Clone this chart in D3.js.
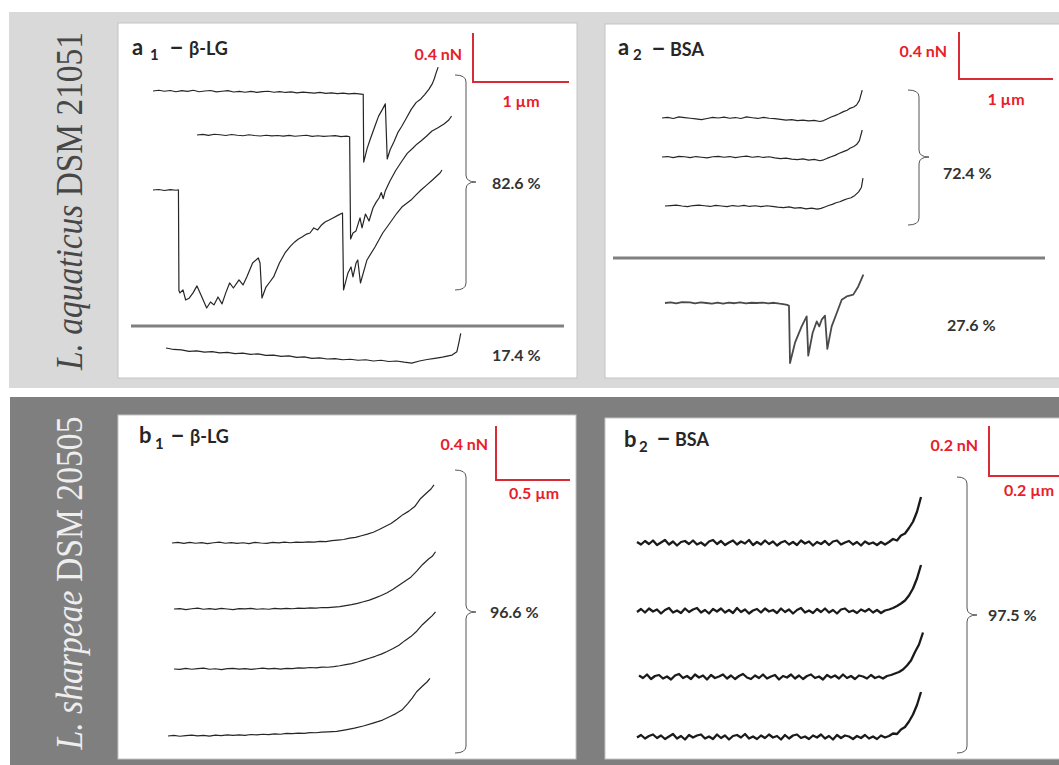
<!DOCTYPE html>
<html><head><meta charset="utf-8">
<script src="https://cdn.jsdelivr.net/npm/d3@7"></script>
<style>body{margin:0;background:#fff}svg{display:block}</style>
</head><body>
<svg id="c" width="1059" height="765"></svg>
<script>
// ---------- DATA: retraction force curves, [distance (µm), force (nN)] ----------
const a1_curve1 = [[0,0],[0.06,0.006],[0.12,-0.002],[0.18,0.004],[0.24,-0.006],[0.30,0.003],[0.36,-0.003],[0.42,0.006],[0.48,-0.006],[0.54,0],[0.60,0.004],[0.66,-0.007],[0.72,-0.002],[0.78,0.003],[0.84,-0.008],[0.90,-0.003],[0.96,-0.01],[1.02,-0.003],[1.08,-0.011],[1.14,-0.005],[1.20,-0.002],[1.26,-0.01],[1.32,-0.005],[1.38,-0.012],[1.44,-0.007],[1.50,-0.015],[1.56,-0.009],[1.62,-0.014],[1.68,-0.018],[1.74,-0.011],[1.80,-0.02],[1.86,-0.015],[1.92,-0.022],[1.98,-0.017],[2.04,-0.024],[2.10,-0.019],[2.19,-0.028],[2.195,-0.58],[2.23,-0.47],[2.26,-0.40],[2.29,-0.335],[2.32,-0.27],[2.35,-0.205],[2.39,-0.15],[2.42,-0.105],[2.44,-0.555],[2.47,-0.48],[2.51,-0.415],[2.55,-0.34],[2.59,-0.29],[2.64,-0.22],[2.69,-0.15],[2.74,-0.095],[2.79,-0.065],[2.83,-0.03],[2.875,0.015],[2.91,0.06],[2.93,0.10],[2.95,0.15],[2.97,0.195]];
const a1_curve2 = [[0,0],[0.06,0.005],[0.12,-0.003],[0.18,0.006],[0.24,0.002],[0.30,-0.004],[0.36,0.004],[0.42,-0.002],[0.48,-0.006],[0.54,0.002],[0.60,-0.004],[0.66,-0.008],[0.72,-0.002],[0.78,-0.007],[0.84,-0.004],[0.90,-0.009],[0.96,-0.003],[1.02,-0.01],[1.08,-0.006],[1.14,-0.002],[1.20,-0.011],[1.26,-0.006],[1.32,-0.012],[1.38,-0.008],[1.44,-0.005],[1.50,-0.013],[1.56,-0.009],[1.59,-0.014],[1.60,-0.849],[1.625,-0.80],[1.656,-0.783],[1.698,-0.677],[1.719,-0.759],[1.755,-0.645],[1.792,-0.702],[1.833,-0.596],[1.865,-0.55],[1.896,-0.514],[1.92,-0.47],[1.94,-0.52],[1.96,-0.46],[2.01,-0.375],[2.07,-0.29],[2.135,-0.212],[2.19,-0.15],[2.25,-0.106],[2.29,-0.075],[2.333,-0.049],[2.39,-0.01],[2.448,0.033],[2.51,0.06],[2.573,0.09],[2.62,0.12],[2.652,0.155]];
const a1_curve3 = [[0,0],[0.06,0.004],[0.12,-0.004],[0.18,0.003],[0.24,-0.002],[0.265,0.002],[0.27,-0.82],[0.281,-0.84],[0.3125,-0.816],[0.34,-0.898],[0.379,-0.881],[0.417,-0.84],[0.458,-0.783],[0.5,-0.857],[0.559,-0.963],[0.599,-0.914],[0.635,-0.938],[0.677,-0.873],[0.719,-0.93],[0.758,-0.84],[0.798,-0.759],[0.8375,-0.8],[0.896,-0.734],[0.9375,-0.775],[0.977,-0.71],[1.0375,-0.596],[1.097,-0.555],[1.115,-0.596],[1.135,-0.881],[1.177,-0.792],[1.217,-0.751],[1.256,-0.71],[1.317,-0.596],[1.375,-0.514],[1.43,-0.46],[1.476,-0.424],[1.515,-0.4],[1.552,-0.384],[1.6,-0.36],[1.635,-0.351],[1.675,-0.31],[1.715,-0.326],[1.75,-0.29],[1.792,-0.261],[1.835,-0.245],[1.875,-0.228],[1.93,-0.205],[1.974,-0.188],[1.985,-0.816],[2.031,-0.677],[2.0625,-0.628],[2.083,-0.71],[2.115,-0.596],[2.133,-0.571],[2.161,-0.759],[2.229,-0.571],[2.3125,-0.465],[2.393,-0.351],[2.44,-0.3],[2.49,-0.245],[2.54,-0.19],[2.592,-0.139],[2.64,-0.11],[2.6875,-0.082],[2.74,-0.04],[2.792,0],[2.85,0.04],[2.911,0.082],[2.95,0.11],[2.99,0.139],[3.01,0.163]];
const a1_curve4 = [[0,0],[0.08,-0.012],[0.16,-0.016],[0.24,-0.028],[0.32,-0.024],[0.40,-0.034],[0.48,-0.03],[0.56,-0.04],[0.64,-0.036],[0.72,-0.046],[0.80,-0.042],[0.88,-0.052],[0.96,-0.048],[1.04,-0.06],[1.12,-0.058],[1.20,-0.068],[1.28,-0.064],[1.36,-0.076],[1.44,-0.072],[1.52,-0.084],[1.60,-0.08],[1.68,-0.09],[1.76,-0.086],[1.84,-0.096],[1.92,-0.092],[2.00,-0.1],[2.08,-0.096],[2.16,-0.106],[2.24,-0.1],[2.32,-0.11],[2.40,-0.106],[2.48,-0.116],[2.56,-0.124],[2.64,-0.106],[2.72,-0.094],[2.80,-0.084],[2.88,-0.074],[2.94,-0.064],[2.98,-0.058],[3.03,-0.03],[3.05,0.04],[3.07,0.12]];

const a2_curve1 = [[0,0],[0.06,0.006],[0.12,-0.004],[0.18,0.01],[0.24,0.004],[0.30,-0.002],[0.36,-0.008],[0.42,-0.014],[0.48,-0.004],[0.54,0.006],[0.60,0],[0.66,0.008],[0.72,-0.002],[0.78,0.004],[0.84,-0.004],[0.90,0.009],[0.96,0.002],[1.02,-0.004],[1.08,0.006],[1.14,-0.002],[1.20,-0.006],[1.26,-0.012],[1.32,-0.018],[1.38,-0.014],[1.44,-0.022],[1.50,-0.018],[1.56,-0.024],[1.62,-0.02],[1.68,-0.03],[1.72,-0.022],[1.76,-0.006],[1.80,0.008],[1.84,0.02],[1.88,0.034],[1.93,0.054],[1.97,0.066],[2.0,0.082],[2.04,0.094],[2.07,0.111],[2.10,0.15],[2.13,0.238]];
const a2_curve2 = [[0,0],[0.06,0.004],[0.12,-0.006],[0.18,0.006],[0.24,0.002],[0.30,-0.006],[0.36,0.004],[0.42,-0.002],[0.48,-0.008],[0.54,0.002],[0.60,0.006],[0.66,-0.002],[0.72,0.004],[0.78,-0.006],[0.84,0.002],[0.90,0.008],[0.96,-0.002],[1.02,0.004],[1.08,-0.004],[1.14,0.002],[1.20,-0.008],[1.26,-0.014],[1.32,-0.01],[1.38,-0.018],[1.44,-0.022],[1.50,-0.016],[1.56,-0.026],[1.62,-0.02],[1.68,-0.032],[1.72,-0.024],[1.76,-0.01],[1.80,0.002],[1.84,0.014],[1.88,0.03],[1.93,0.046],[1.97,0.058],[2.0,0.074],[2.04,0.09],[2.07,0.106],[2.10,0.14],[2.13,0.23]];
const a2_curve3 = [[0,0],[0.06,0.004],[0.12,0.008],[0.18,0],[0.24,-0.006],[0.30,0.004],[0.36,0.008],[0.42,0.002],[0.48,-0.004],[0.54,0.006],[0.60,0],[0.66,-0.006],[0.72,0.004],[0.78,-0.002],[0.84,0.006],[0.90,-0.004],[0.96,0.002],[1.02,-0.006],[1.08,0.002],[1.14,-0.004],[1.20,-0.01],[1.26,-0.014],[1.32,-0.008],[1.38,-0.018],[1.44,-0.014],[1.50,-0.024],[1.56,-0.018],[1.62,-0.026],[1.66,-0.02],[1.70,-0.008],[1.74,0.004],[1.78,0.014],[1.82,0.028],[1.86,0.036],[1.90,0.05],[1.94,0.062],[1.98,0.07],[2.02,0.09],[2.06,0.12],[2.09,0.16],[2.106,0.238]];
const a2_curve4 = [[0,0],[0.06,0.006],[0.12,-0.004],[0.18,0.008],[0.266,0.005],[0.32,-0.004],[0.38,0.006],[0.44,0],[0.50,-0.006],[0.56,0.004],[0.617,-0.006],[0.68,0.004],[0.74,-0.002],[0.80,0.006],[0.86,-0.004],[0.92,0.002],[0.976,0],[1.04,0.004],[1.10,-0.004],[1.16,0.002],[1.22,-0.006],[1.255,-0.009],[1.30,-0.016],[1.319,-0.023],[1.33,-0.511],[1.383,-0.338],[1.454,-0.199],[1.507,-0.114],[1.524,-0.448],[1.571,-0.253],[1.614,-0.157],[1.641,-0.199],[1.667,-0.142],[1.702,-0.108],[1.727,-0.391],[1.773,-0.199],[1.827,-0.085],[1.88,0.028],[1.933,0.056],[2.003,0.071],[2.056,0.141],[2.11,0.241]];

const b1_curve1 = [[0,0],[0.04,0.004],[0.08,-0.003],[0.12,0.005],[0.16,-0.002],[0.20,0.003],[0.24,-0.004],[0.28,0.002],[0.32,0.006],[0.36,-0.002],[0.40,0.003],[0.44,-0.003],[0.48,0.002],[0.52,-0.004],[0.56,0.004],[0.60,0],[0.64,-0.003],[0.68,0.004],[0.72,0.001],[0.76,0.006],[0.80,0.002],[0.84,0.007],[0.88,0.004],[0.92,0.009],[0.96,0.007],[1.00,0.012],[1.04,0.01],[1.08,0.017],[1.12,0.022],[1.16,0.026],[1.20,0.036],[1.24,0.042],[1.28,0.054],[1.32,0.066],[1.36,0.08],[1.40,0.1],[1.44,0.122],[1.48,0.145],[1.52,0.176],[1.56,0.21],[1.60,0.236],[1.64,0.27],[1.68,0.33],[1.72,0.37],[1.75,0.4],[1.77,0.43]];
const b1_curve2 = [[0,0],[0.04,0.003],[0.08,-0.004],[0.12,0.002],[0.16,0.006],[0.20,-0.002],[0.24,0.003],[0.28,-0.003],[0.32,0.004],[0.36,0],[0.40,-0.004],[0.44,0.003],[0.48,0.001],[0.52,0.005],[0.56,-0.002],[0.60,0.002],[0.64,-0.002],[0.68,0.004],[0.72,0.001],[0.76,0.005],[0.80,0.002],[0.84,0.006],[0.88,0.004],[0.92,0.008],[0.96,0.006],[1.00,0.011],[1.04,0.01],[1.08,0.014],[1.12,0.018],[1.16,0.025],[1.20,0.032],[1.24,0.042],[1.28,0.054],[1.32,0.066],[1.36,0.082],[1.40,0.1],[1.44,0.12],[1.48,0.146],[1.52,0.176],[1.56,0.206],[1.60,0.236],[1.64,0.28],[1.68,0.33],[1.72,0.37],[1.745,0.39],[1.767,0.424]];
const b1_curve3 = [[0,0],[0.04,-0.003],[0.08,0.004],[0.12,-0.002],[0.16,0.003],[0.20,0.006],[0.24,-0.002],[0.28,0.002],[0.32,-0.004],[0.36,0.003],[0.40,0.005],[0.44,-0.001],[0.48,0.003],[0.52,-0.003],[0.56,0.002],[0.60,0.006],[0.64,0.001],[0.68,0.004],[0.72,-0.001],[0.76,0.005],[0.80,0.003],[0.84,0.008],[0.88,0.006],[0.92,0.011],[0.96,0.009],[1.00,0.014],[1.04,0.013],[1.08,0.018],[1.12,0.024],[1.16,0.032],[1.20,0.04],[1.24,0.052],[1.28,0.066],[1.32,0.08],[1.36,0.094],[1.40,0.11],[1.44,0.13],[1.48,0.152],[1.52,0.176],[1.56,0.21],[1.60,0.24],[1.64,0.28],[1.68,0.33],[1.72,0.37],[1.745,0.395],[1.767,0.424]];
const b1_curve4 = [[0,0],[0.04,0.004],[0.08,-0.002],[0.12,0.003],[0.16,0.006],[0.20,0.001],[0.24,0.005],[0.28,-0.001],[0.32,0.006],[0.36,0.003],[0.40,0.008],[0.44,0.004],[0.48,0.009],[0.52,0.005],[0.56,0.011],[0.60,0.008],[0.64,0.013],[0.68,0.01],[0.72,0.016],[0.76,0.013],[0.80,0.019],[0.84,0.017],[0.88,0.022],[0.92,0.02],[0.96,0.025],[1.00,0.024],[1.04,0.028],[1.08,0.03],[1.14,0.034],[1.20,0.046],[1.26,0.058],[1.32,0.074],[1.38,0.094],[1.45,0.118],[1.50,0.144],[1.54,0.166],[1.58,0.192],[1.62,0.24],[1.65,0.28],[1.68,0.328],[1.72,0.37],[1.75,0.4],[1.77,0.427]];

// b2: force samples (nN) at equal distance steps over a 0.71 µm span
const b2_span = 0.71;
const b2_curve1 = [0.004,-0.006,0.008,-0.004,0.01,-0.008,0.002,0.012,-0.006,0.006,-0.01,0.004,0.008,-0.004,0.01,-0.006,0.002,-0.01,0.006,0.012,-0.004,0.008,-0.008,0.002,0.01,-0.006,0.006,-0.002,0.012,-0.008,0.004,-0.006,0.01,-0.004,0.006,-0.01,0.002,0.008,-0.006,0.004,-0.008,0.01,-0.002,0.006,-0.01,0.004,-0.004,0.008,-0.008,0.006,0.01,-0.006,0.002,0.008,-0.006,0.004,-0.01,0.006,-0.004,0.002,-0.008,0.004,-0.006,0.004,0.016,0.01,0.03,0.038,0.06,0.085,0.125,0.184];
const b2_curve2 = [-0.004,0.008,-0.006,0.01,-0.002,0.006,-0.01,0.004,0.012,-0.006,0.002,-0.008,0.01,-0.004,0.006,0.012,-0.006,0.004,-0.01,0.008,-0.002,0.01,-0.006,0.004,-0.008,0.012,-0.004,0.006,-0.01,0.002,0.008,-0.006,0.01,-0.002,0.004,-0.008,0.01,-0.004,0.006,-0.01,0.004,0.012,-0.006,0.002,-0.008,0.008,-0.004,0.01,-0.006,0.004,-0.01,0.006,0.01,-0.004,0.002,-0.008,0.006,-0.002,0.008,-0.006,0.004,-0.008,0.002,0.006,0.012,0.02,0.03,0.042,0.062,0.09,0.13,0.184];
const b2_curve3 = [0.006,-0.004,0.01,-0.008,0.004,0.008,-0.006,0.002,-0.01,0.006,0.012,-0.004,0.004,-0.008,0.01,-0.002,0.006,-0.01,0.008,-0.004,0.002,0.01,-0.006,0.006,-0.008,0.004,0.012,-0.002,-0.008,0.006,-0.004,0.01,-0.006,0.002,0.008,-0.01,0.004,-0.002,0.01,-0.006,0.006,-0.008,0.004,0.01,-0.004,0.002,-0.01,0.008,-0.002,0.006,-0.006,0.01,-0.004,0.004,-0.008,0.006,0.002,-0.006,0.008,-0.004,0.002,-0.006,0.004,0.008,0.014,0.02,0.03,0.046,0.066,0.1,0.13,0.178];
const b2_curve4 = [-0.002,0.008,-0.006,0.004,0.01,-0.004,0.006,-0.008,0.002,0.012,-0.006,0.004,-0.01,0.008,-0.002,0.006,0.01,-0.006,0.002,-0.008,0.01,-0.004,0.006,-0.01,0.004,0.008,-0.002,0.012,-0.006,0.002,-0.008,0.006,-0.004,0.01,-0.002,0.004,-0.01,0.008,-0.006,0.006,0.01,-0.004,0.002,-0.008,0.006,-0.002,0.01,-0.006,0.004,-0.01,0.008,-0.004,0.006,0.002,-0.008,0.004,-0.004,0.008,-0.006,0.002,-0.008,0.006,-0.002,0.004,0.014,0.012,0.03,0.04,0.062,0.09,0.128,0.18];

// labels
const groupLabels = [["L. aquaticus", " DSM 21051"], ["L. sharpeae", " DSM 20505"]];
const panelTitles = [["a", "1", "–", "β-LG"], ["a", "2", "–", "BSA"], ["b", "1", "–", "β-LG"], ["b", "2", "–", "BSA"]];
const shares = ["82.6 %", "17.4 %", "72.4 %", "27.6 %", "96.6 %", "97.5 %"];
const scaleBarValues = [[1, 0.4], [1, 0.4], [0.5, 0.4], [0.2, 0.2]]; // [µm, nN]
const scaleBarLabels = [["1 µm", "0.4 nN"], ["1 µm", "0.4 nN"], ["0.5 µm", "0.4 nN"], ["0.2 µm", "0.2 nN"]];

// ---------- LAYOUT ----------
const panels = [
  {rect:[118,23,459,355], pxUm:96,  pxNn:122.5, bar:[473,82], fLab:[462,60], uLab:[521,107],
   title:[[132,55,22],[150,60,15],[169,56,26],[189,55,18]],
   curves:[{d:a1_curve1,o:[153,91]},{d:a1_curve2,o:[197,135]},{d:a1_curve3,o:[153,190]},{d:a1_curve4,o:[166,348]}],
   stroke:'#262626', sw:1.2},
  {rect:[605,24,470,354], pxUm:94, pxNn:117.5, bar:[959,79], fLab:[947,57], uLab:[1006,105],
   title:[[618,55,22],[633,60,15],[651,57,26],[670,56,18]],
   curves:[{d:a2_curve1,o:[662,118]},{d:a2_curve2,o:[662,157]},{d:a2_curve3,o:[665,206]},{d:a2_curve4,o:[665,303],sw:1.8,stroke:'#4a4a4a'}],
   stroke:'#262626', sw:1.2},
  {rect:[118,415,458,344], pxUm:148, pxNn:135, bar:[496,480], fLab:[488,450], uLab:[534,499],
   title:[[139,443,22],[155,449,15],[170,444,26],[190,443,18]],
   curves:[{d:b1_curve1,o:[172,543]},{d:b1_curve2,o:[174,609]},{d:b1_curve3,o:[174,669]},{d:b1_curve4,o:[168,736]}],
   stroke:'#262626', sw:1.2},
  {rect:[605,418,470,341], pxUm:400, pxNn:250, bar:[989,476], fLab:[978,451], uLab:[1029,496],
   title:[[624,447,22],[639,452,15],[656,447,26],[675,446,18]],
   curves:[{d:b2_curve1,o:[637,543]},{d:b2_curve2,o:[637,611]},{d:b2_curve3,o:[639,677]},{d:b2_curve4,o:[637,737]}],
   stroke:'#1a1a1a', sw:2.3}
];
const braces = [[455,466,476,75,182,290],[908,919,929,90,157,225],[455,466,476,470,612,753],[957,967,977,477,615,753]];
const sharePos = [[492,189],[492,361],[943,179],[947,331],[490,618],[988,621]];
const separators = [[131,564,326],[613,1045,258]];

// ---------- DRAW ----------
const svg = d3.select('#c');
const SANS = 'Lato, "Open Sans", sans-serif';

svg.append('rect').attr('x',9).attr('y',12).attr('width',1050).attr('height',376).attr('fill','#d9d9d9');
svg.append('rect').attr('x',10).attr('y',397).attr('width',1049).attr('height',368).attr('fill','#7f7f7f');

// vertical group labels
[[82,201,'#474747'],[82,583,'#eeeeee']].forEach((p,i)=>{
  const t = svg.append('text').attr('transform',`translate(${p[0]},${p[1]}) rotate(-90)`)
    .attr('text-anchor','middle').attr('font-family','"Liberation Serif","Times New Roman",serif')
    .attr('font-size',37).attr('fill',p[2]).attr('textLength',i===0?338:333).attr('lengthAdjust','spacingAndGlyphs');
  t.append('tspan').attr('font-style','italic').text(groupLabels[i][0]);
  t.append('tspan').text(groupLabels[i][1]);
});

panels.forEach((P,pi)=>{
  svg.append('rect').attr('x',P.rect[0]).attr('y',P.rect[1]).attr('width',P.rect[2]).attr('height',P.rect[3])
    .attr('fill','#fff').attr('stroke','#c4c4c4').attr('stroke-width',1);
  // title
  panelTitles[pi].forEach((s,k)=>{
    const tt = P.title[k];
    svg.append('text').attr('x',tt[0]).attr('y',tt[1]).attr('font-family',SANS).attr('font-weight','bold')
      .attr('font-size',tt[2]).attr('fill','#262626').text(s);
  });
  // curves
  P.curves.forEach(c=>{
    const x = d3.scaleLinear().domain([0,1]).range([c.o[0], c.o[0]+P.pxUm]);
    const y = d3.scaleLinear().domain([0,1]).range([c.o[1], c.o[1]-P.pxNn]);
    const pts = Array.isArray(c.d[0]) ? c.d : c.d.map((v,i)=>[i*b2_span/(c.d.length-1), v]);
    svg.append('path').attr('d', d3.line().x(d=>x(d[0])).y(d=>y(d[1]))(pts))
      .attr('fill','none').attr('stroke',c.stroke||P.stroke).attr('stroke-width',c.sw||P.sw)
      .attr('stroke-linejoin','round');
  });
  // scale bar through the panel scales
  const bx = d3.scaleLinear().domain([0,1]).range([P.bar[0], P.bar[0]+P.pxUm]);
  const by = d3.scaleLinear().domain([0,1]).range([P.bar[1], P.bar[1]-P.pxNn]);
  const [um, nn] = scaleBarValues[pi];
  svg.append('path').attr('d',`M${bx(0)},${by(nn)}L${bx(0)},${by(0)}L${bx(um)},${by(0)}`)
    .attr('fill','none').attr('stroke','#d92b35').attr('stroke-width',2);
  svg.append('text').attr('x',P.fLab[0]).attr('y',P.fLab[1]).attr('text-anchor','end')
    .attr('font-family',SANS).attr('font-weight','bold').attr('font-size',16).attr('fill','#e8202a').text(scaleBarLabels[pi][1]);
  svg.append('text').attr('x',P.uLab[0]).attr('y',P.uLab[1]).attr('text-anchor','middle')
    .attr('font-family',SANS).attr('font-weight','bold').attr('font-size',16).attr('fill','#e8202a').text(scaleBarLabels[pi][0]);
});

// separators
separators.forEach(s=>{
  svg.append('line').attr('x1',s[0]).attr('x2',s[1]).attr('y1',s[2]).attr('y2',s[2])
    .attr('stroke','#808080').attr('stroke-width',3);
});

// braces
braces.forEach(b=>{
  const [xe,xm,xt,yt,yc,yb] = b, r = 7;
  const d = `M${xe},${yt}Q${xm},${yt} ${xm},${yt+r}L${xm},${yc-r}Q${xm},${yc} ${xt},${yc}`+
            `Q${xm},${yc} ${xm},${yc+r}L${xm},${yb-r}Q${xm},${yb} ${xe},${yb}`;
  svg.append('path').attr('d',d).attr('fill','none').attr('stroke','#555').attr('stroke-width',1);
});

// shares
shares.forEach((s,i)=>{
  svg.append('text').attr('x',sharePos[i][0]).attr('y',sharePos[i][1]).attr('font-family',SANS)
    .attr('font-weight','bold').attr('font-size',16).attr('fill','#333').text(s);
});
</script>
</body></html>
